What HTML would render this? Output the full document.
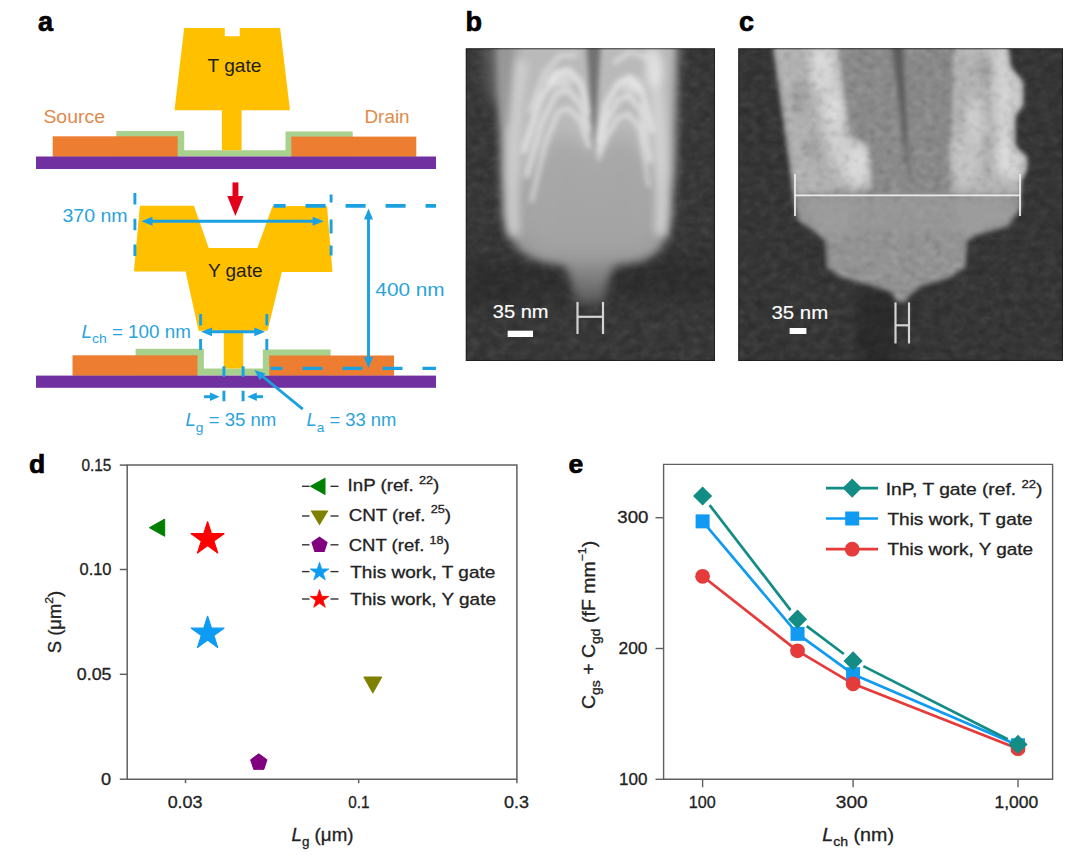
<!DOCTYPE html>
<html><head><meta charset="utf-8">
<style>
html,body{margin:0;padding:0;background:#fff;}
body{width:1084px;height:855px;overflow:hidden;position:relative;font-family:"Liberation Sans",sans-serif;}
svg{position:absolute;left:0;top:0;}
text{font-family:"Liberation Sans",sans-serif;}
</style></head>
<body>
<svg width="1084" height="855" viewBox="0 0 1084 855">
<!-- ============ PANEL A ============ -->
<g id="pa">
<text x="38" y="31" font-size="27" font-weight="bold" fill="#000" stroke="#000" stroke-width="0.7">a</text>
<!-- top diagram -->
<polygon fill="#A9D18E" points="116.3,131 184.2,131 184.2,150.2 285.5,150.2 285.5,131.5 352.7,131.5 352.7,156.5 116.3,156.5"/>
<rect x="52.7" y="136.3" width="125" height="20.5" fill="#ED7D31"/>
<rect x="291.3" y="136.6" width="125" height="20.2" fill="#ED7D31"/>
<rect x="36" y="156.5" width="400" height="12.5" fill="#7030A0"/>
<polygon fill="#FFC000" points="184.2,27.9 224.8,27.9 224.8,36.3 239.8,36.3 239.8,27.9 280.1,27.9 290,110.2 241.6,110.2 241.6,150.2 221.9,150.2 221.9,110.2 174.5,110.2"/>

<!-- bottom diagram -->
<polygon fill="#A9D18E" points="135.6,348.8 203.9,348.8 203.9,368.6 262.8,368.6 262.8,349.5 330.6,349.5 330.6,375.6 135.6,375.6"/>
<rect x="72.5" y="355.3" width="125" height="20.5" fill="#ED7D31"/>
<rect x="269.2" y="355.5" width="124.8" height="20.3" fill="#ED7D31"/>
<rect x="36" y="375.6" width="400" height="12.2" fill="#7030A0"/>
<polygon fill="#FFC000" points="139.9,205.8 193.9,205.8 208.7,247.9 257.4,247.9 272.6,205.9 327,205.9 332.5,272 281.8,272 267.6,330.8 243.2,330.8 243.2,368.6 223.8,368.6 223.8,330.8 198.6,330.8 185.6,271.5 133.9,271.5"/>

<!-- red arrow -->
<rect x="232.5" y="182.4" width="5.9" height="14" fill="#E3001B"/>
<polygon points="227.3,196 243.5,196 235.4,216" fill="#E3001B"/>

<g stroke="#1BA1E2" stroke-width="2.9" fill="none">
  <!-- vertical dashed 370 -->
  <line x1="134.9" y1="192.9" x2="134.9" y2="258" stroke-dasharray="11.5 14.3"/>
  <line x1="331.1" y1="194.5" x2="331.1" y2="258" stroke-dasharray="8 17 14 12 10 50"/>
  <!-- top horizontal dashed -->
  <line x1="273.6" y1="205.9" x2="436" y2="205.9" stroke-dasharray="20 20" stroke-dashoffset="8" stroke-width="3.6"/>
  <!-- bottom horizontal dashed -->
  <line x1="270.7" y1="368.4" x2="436" y2="368.4" stroke-dasharray="20 20" stroke-dashoffset="8.2" stroke-width="3.4"/>
  <!-- 370 arrow -->
  <line x1="146" y1="221.2" x2="319" y2="221.2"/>
  <!-- 400 arrow -->
  <line x1="368.5" y1="214" x2="368.5" y2="362"/>
  <!-- Lch arrow -->
  <line x1="206" y1="331.8" x2="260" y2="331.8"/>
  <!-- Lch dashed verticals -->
  <line x1="200.6" y1="314" x2="200.6" y2="350" stroke-dasharray="11.5 13.5"/>
  <line x1="266.8" y1="314" x2="266.8" y2="350" stroke-dasharray="11.5 13.5"/>
  <!-- Lg small dashes -->
  <line x1="223.9" y1="366.3" x2="223.9" y2="402" stroke-dasharray="10.5 13.9"/>
  <line x1="243.1" y1="366.3" x2="243.1" y2="402" stroke-dasharray="10.5 13.9"/>
  <!-- Lg arrows -->
  <line x1="204" y1="396.7" x2="215" y2="396.7"/>
  <line x1="263" y1="396.7" x2="252" y2="396.7"/>
  <!-- La arrow -->
  <line x1="302.8" y1="409.2" x2="259" y2="373.5"/>
</g>
<g fill="#1BA1E2">
  <polygon points="141.3,221.2 152.5,216.7 152.5,225.7"/>
  <polygon points="323.8,221.2 312.6,216.7 312.6,225.7"/>
  <polygon points="368.5,208.5 364,219.5 373,219.5"/>
  <polygon points="368.5,368 364,357 373,357"/>
  <polygon points="201.1,331.8 212,327.4 212,336.2"/>
  <polygon points="265.2,331.8 254.3,327.4 254.3,336.2"/>
  <polygon points="219.6,396.7 210,392.5 210,400.9"/>
  <polygon points="247.2,396.7 256.8,392.5 256.8,400.9"/>
  <polygon points="254.4,369.9 265.5,373.4 259.8,380.3"/>
</g>
<text x="207.51" y="72.30" font-size="18.2" fill="#1e1e1e" textLength="53.95" lengthAdjust="spacingAndGlyphs">T gate</text>
<text x="43.40" y="122.50" font-size="18.2" fill="#E08B4C" textLength="61.62" lengthAdjust="spacingAndGlyphs">Source</text>
<text x="364.43" y="123.20" font-size="18.2" fill="#E08B4C" textLength="45.20" lengthAdjust="spacingAndGlyphs">Drain</text>
<text x="207.98" y="276.60" font-size="18.5" fill="#1e1e1e" textLength="54.53" lengthAdjust="spacingAndGlyphs">Y gate</text>
<text x="62.43" y="221.80" font-size="18.2" fill="#2AA3DD" textLength="65.22" lengthAdjust="spacingAndGlyphs">370 nm</text>
<text x="375.33" y="296.40" font-size="18.2" fill="#2AA3DD" textLength="69.33" lengthAdjust="spacingAndGlyphs">400 nm</text>
<text x="81.48" y="337.50" font-size="18.2" fill="#2AA3DD" textLength="109.34" lengthAdjust="spacingAndGlyphs"><tspan font-style="italic">L</tspan><tspan font-size="13.5" dy="5.5">ch</tspan><tspan dy="-5.5"> = 100 nm</tspan></text>
<text x="185.49" y="426.40" font-size="18.2" fill="#2AA3DD" textLength="90.74" lengthAdjust="spacingAndGlyphs"><tspan font-style="italic">L</tspan><tspan font-size="13.5" dy="5.5">g</tspan><tspan dy="-5.5"> = 35 nm</tspan></text>
<text x="306.48" y="426.40" font-size="18.2" fill="#2AA3DD" textLength="89.92" lengthAdjust="spacingAndGlyphs"><tspan font-style="italic">L</tspan><tspan font-size="13.5" dy="5.5">a</tspan><tspan dy="-5.5"> = 33 nm</tspan></text>

</g>


<!-- ============ PANEL B ============ -->
<defs>
  <filter color-interpolation-filters="sRGB" id="blur1" filterUnits="userSpaceOnUse" x="0" y="0" width="1084" height="855"><feGaussianBlur stdDeviation="1.2"/></filter>
  <filter color-interpolation-filters="sRGB" id="blur2" filterUnits="userSpaceOnUse" x="0" y="0" width="1084" height="855"><feGaussianBlur stdDeviation="2.5"/></filter>
  <filter color-interpolation-filters="sRGB" id="blur4" filterUnits="userSpaceOnUse" x="0" y="0" width="1084" height="855"><feGaussianBlur stdDeviation="4"/></filter>
  <filter color-interpolation-filters="sRGB" id="blur5" filterUnits="userSpaceOnUse" x="0" y="0" width="1084" height="855"><feGaussianBlur stdDeviation="5"/></filter>
  <filter color-interpolation-filters="sRGB" id="blur8" filterUnits="userSpaceOnUse" x="0" y="0" width="1084" height="855"><feGaussianBlur stdDeviation="8"/></filter>
  <filter color-interpolation-filters="sRGB" id="bgnoise" x="0" y="0" width="100%" height="100%">
    <feTurbulence type="fractalNoise" baseFrequency="0.09 0.13" numOctaves="2" seed="4" result="n"/>
    <feColorMatrix type="matrix" values="0 0 0 0 0  0 0 0 0 0  0 0 0 0 0  1.2 0 0 0 -0.35" result="a"/>
    <feGaussianBlur stdDeviation="0.6"/>
    <feComposite in2="SourceGraphic" operator="in"/>
  </filter>
  <filter color-interpolation-filters="sRGB" id="bgnoiseW" x="0" y="0" width="100%" height="100%">
    <feTurbulence type="fractalNoise" baseFrequency="0.1 0.12" numOctaves="2" seed="9" result="n"/>
    <feColorMatrix type="matrix" values="0 0 0 0 1  0 0 0 0 1  0 0 0 0 1  1.0 0 0 0 -0.45"/>
    <feGaussianBlur stdDeviation="0.6"/>
    <feComposite in2="SourceGraphic" operator="in"/>
  </filter>
  <filter color-interpolation-filters="sRGB" id="rough" x="-10%" y="-10%" width="120%" height="120%">
    <feTurbulence type="fractalNoise" baseFrequency="0.09" numOctaves="3" seed="2" result="n"/>
    <feColorMatrix in="n" type="matrix" values="0 0 0 0 1  0 0 0 0 1  0 0 0 0 1  2.2 0 0 0 -0.9" result="w"/>
    <feComposite in="w" in2="SourceGraphic" operator="in" result="wc"/>
    <feGaussianBlur in="wc" stdDeviation="1"/>
  </filter>
  <filter color-interpolation-filters="sRGB" id="texBody" filterUnits="userSpaceOnUse" x="0" y="0" width="1084" height="855">
    <feGaussianBlur in="SourceAlpha" stdDeviation="2.8" result="sa"/>
    <feTurbulence type="fractalNoise" baseFrequency="0.11" numOctaves="3" seed="3" result="n"/>
    <feColorMatrix in="n" type="matrix" values="0.28 0 0 0 0.42  0.28 0 0 0 0.42  0.28 0 0 0 0.42  0 0 0 0 1" result="g"/>
    <feGaussianBlur in="g" stdDeviation="1.0" result="gb"/>
    <feComposite in="gb" in2="sa" operator="in"/>
  </filter>
  <filter color-interpolation-filters="sRGB" id="texMidBand" filterUnits="userSpaceOnUse" x="0" y="0" width="1084" height="855">
    <feGaussianBlur in="SourceAlpha" stdDeviation="1.5" result="sa"/>
    <feTurbulence type="fractalNoise" baseFrequency="0.09 0.14" numOctaves="3" seed="7" result="n"/>
    <feColorMatrix in="n" type="matrix" values="0.25 0 0 0 0.41  0.25 0 0 0 0.41  0.25 0 0 0 0.41  0 0 0 0 1" result="g"/>
    <feGaussianBlur in="g" stdDeviation="0.6" result="gb"/>
    <feComposite in="gb" in2="sa" operator="in"/>
  </filter>
  <filter color-interpolation-filters="sRGB" id="texBright" filterUnits="userSpaceOnUse" x="0" y="0" width="1084" height="855">
    <feGaussianBlur in="SourceAlpha" stdDeviation="2.2" result="sa"/>
    <feTurbulence type="fractalNoise" baseFrequency="0.055" numOctaves="4" seed="11" result="n"/>
    <feColorMatrix in="n" type="matrix" values="0.85 0 0 0 0.36  0.85 0 0 0 0.36  0.85 0 0 0 0.36  0 0 0 0 1" result="g"/>
    <feGaussianBlur in="g" stdDeviation="1.1" result="gb"/>
    <feComposite in="gb" in2="sa" operator="in"/>
  </filter>
  <filter color-interpolation-filters="sRGB" id="texOverlay" filterUnits="userSpaceOnUse" x="0" y="0" width="1084" height="855">
    <feGaussianBlur in="SourceAlpha" stdDeviation="2.5" result="sa"/>
    <feTurbulence type="fractalNoise" baseFrequency="0.12 0.16" numOctaves="2" seed="21" result="n"/>
    <feColorMatrix in="n" type="matrix" values="0 0 0 0 0.5  0 0 0 0 0.5  0 0 0 0 0.5  2.5 0 0 0 -1.1" result="a1"/>
    <feColorMatrix in="n" type="matrix" values="0 0 0 0 1  0 0 0 0 1  0 0 0 0 1  0 1.6 0 0 -0.75" result="a2"/>
    <feColorMatrix in="n" type="matrix" values="0 0 0 0 0  0 0 0 0 0  0 0 0 0 0  0 0 1.6 0 -0.75" result="a3"/>
    <feMerge result="m"><feMergeNode in="a3"/><feMergeNode in="a2"/></feMerge>
    <feGaussianBlur in="m" stdDeviation="0.8" result="mb"/>
    <feComposite in="mb" in2="sa" operator="in"/>
  </filter>
  <linearGradient id="gb" x1="0" y1="0" x2="0" y2="1">
    <stop offset="0" stop-color="#bdbdbd"/>
    <stop offset="0.45" stop-color="#ababab"/>
    <stop offset="0.72" stop-color="#a3a3a3"/>
    <stop offset="0.84" stop-color="#959595"/>
    <stop offset="1" stop-color="#5a5a5a"/>
  </linearGradient>
  <linearGradient id="gc" x1="0" y1="0" x2="0" y2="1">
    <stop offset="0" stop-color="#9a9a9a"/>
    <stop offset="0.6" stop-color="#939393"/>
    <stop offset="0.85" stop-color="#8c8c8c"/>
    <stop offset="1" stop-color="#6a6a6a"/>
  </linearGradient>
</defs>
<g id="pb">
<text x="465.5" y="31.3" font-size="27" font-weight="bold" fill="#000" stroke="#000" stroke-width="0.7">b</text>
<svg x="465.6" y="48.2" width="249.4" height="312.8" viewBox="465.6 48.2 249.4 312.8" overflow="hidden">
  <rect x="465.6" y="48.2" width="249.4" height="312.8" fill="#3b3b3b"/>
  <rect x="465.6" y="48.2" width="249.4" height="312.8" fill="#000" opacity="0.3" filter="url(#bgnoise)"/>
  <rect x="465.6" y="48.2" width="249.4" height="312.8" fill="#fff" opacity="0.12" filter="url(#bgnoiseW)"/>
  <!-- shadow zone -->
  <path d="M466,262 L560,262 L570,300 L466,305 Z" fill="#1a1a1a" opacity="0.3" filter="url(#blur8)"/>
  <path d="M615,262 L715,255 L715,300 L610,300 Z" fill="#1a1a1a" opacity="0.3" filter="url(#blur8)"/>
  <!-- soft gray top-left -->
  <path d="M484,40 L515,40 L512,110 L490,100 Z" fill="#6a6a6a" filter="url(#blur8)"/>
  <!-- body -->
  <path d="M499,40 L676,40 L674,120 L672,215 L668,236 L658,252 L640,261 L614,266 L608,281.5 L603,303 L577,303 L571.3,281.5 L565,266 L540,261 L522,253 L510,238 L503,218 L500,120 Z" fill="url(#gb)" filter="url(#blur5)"/>
  <!-- top-left gray zone -->
  <path d="M500,40 L522,40 L516,120 L503,130 Z" fill="#8e8e8e" filter="url(#blur4)"/>
  <!-- upper lighter region -->
  <path d="M515,40 L672,40 L670,190 L625,130 L593,150 L560,130 L510,190 Z" fill="#bababa" filter="url(#blur8)"/>
  <!-- bright rims -->
  <path d="M522,60 C514,120 510,175 514,235" stroke="#d2d2d2" stroke-width="12" fill="none" opacity="0.85" filter="url(#blur4)"/>
  <path d="M650,45 C660,110 664,175 660,235" stroke="#d6d6d6" stroke-width="13" fill="none" opacity="0.85" filter="url(#blur4)"/>
  <!-- chevron ridges -->
  <g stroke="#e6e6e6" fill="none" stroke-linecap="round" stroke-linejoin="round" filter="url(#blur2)">
    <path d="M524,150 L540,100 L556,74 L568,70 L580,82 L590,112" stroke-width="7" opacity="0.75"/>
    <path d="M527,175 L542,122 L556,94 L568,90 L580,104 L590,130" stroke-width="6" opacity="0.7"/>
    <path d="M532,200 L546,142 L558,112 L568,108 L580,120 L589,146" stroke-width="5.5" opacity="0.65"/>
    <path d="M530,110 L545,72 L560,56 L575,55" stroke-width="6" opacity="0.55"/>
    <path d="M598,140 L606,104 L618,84 L630,78 L642,92 L652,130" stroke-width="7" opacity="0.75"/>
    <path d="M598,150 L606,122 L618,100 L629,96 L641,110 L650,160" stroke-width="6" opacity="0.7"/>
    <path d="M599,158 L607,136 L618,118 L628,114 L640,128 L648,185" stroke-width="5.5" opacity="0.65"/>
    <path d="M615,62 L630,52 L648,58" stroke-width="6" opacity="0.55"/>
  </g>
  <g fill="#ececec" filter="url(#blur4)" opacity="0.6">
    <ellipse cx="560" cy="80" rx="14" ry="9"/>
    <ellipse cx="632" cy="86" rx="12" ry="9"/>
    <ellipse cx="655" cy="70" rx="8" ry="18"/>
  </g>
  <!-- lower domes (smooth) -->
  <path d="M535,255 C533,200 545,150 563,145 C580,147 590,170 593,195 C598,165 610,147 627,145 C645,150 652,200 650,255 Z" fill="#a6a6a6" opacity="0.6" filter="url(#blur8)"/>
  <!-- center V -->
  <path d="M586,40 L601,40 L594,153 Z" fill="#727272" filter="url(#blur2)"/>
  <!-- scale -->
  <rect x="466.1" y="48.7" width="248.4" height="311.8" fill="none" stroke="#1c1c1c" stroke-width="1.2" opacity="0.8"/>
  <text x="492.85" y="318.00" font-size="17.5" fill="#fff" textLength="55.74" lengthAdjust="spacingAndGlyphs" stroke="#fff" stroke-width="0.15">35 nm</text>

  <rect x="507.7" y="330.7" width="25.3" height="6.3" fill="#fff"/>
  <g stroke="#d4d4d4" stroke-width="2.2" fill="none">
    <line x1="577.5" y1="301.9" x2="577.5" y2="334"/>
    <line x1="603" y1="301.9" x2="603" y2="334"/>
    <line x1="577.5" y1="316.8" x2="603" y2="316.8"/>
  </g>
</svg>
</g>

<!-- ============ PANEL C ============ -->
<g id="pc">
<text x="739" y="31.3" font-size="27" font-weight="bold" fill="#000" stroke="#000" stroke-width="0.7">c</text>
<svg x="738.2" y="48.2" width="324.8" height="312.8" viewBox="738.2 48.2 324.8 312.8" overflow="hidden">
  <rect x="738.2" y="48.2" width="324.8" height="312.8" fill="#393939"/>
  <rect x="738.2" y="48.2" width="324.8" height="312.8" fill="#000" opacity="0.3" filter="url(#bgnoise)"/>
  <rect x="738.2" y="48.2" width="324.8" height="312.8" fill="#fff" opacity="0.12" filter="url(#bgnoiseW)"/>
  <!-- dark band below tip -->
  <rect x="858" y="292" width="36" height="80" fill="#1e1e1e" opacity="0.45" filter="url(#blur4)"/>
  <!-- body base -->
  <path d="M772,40 L1006,40 L1009,67 L1022,82 L1022,105 L1014,115 L1014,147 L1026,157 L1026,170 L1020,180 L1021,208 L1008,226 L975,235 L966,242.5 L964,268 L948,278.5 L921,286 L910,295 L905,302 L897,302 L891,292 L873,286 L840,277 L828,268 L826.5,241 L816,232 L798,220 L793.5,200 L790,170 L783,120 Z" fill="#939393" filter="url(#blur2)"/>
  <!-- mid bands slightly darker -->
  <path d="M836,40 L896,40 L909,194 L868,194 L849,138 Z" fill="#8a8a8a" filter="url(#blur2)"/>
  <path d="M904,40 L955,40 L952,120 L950,194 L910,194 Z" fill="#898989" filter="url(#blur2)"/>
  <!-- left bright band -->
  <path d="M774,40 L836,40 L849,138 L868,145 L872,190 L796,194 L786,120 Z" fill="#b2b2b2" filter="url(#blur2)"/>
  <path d="M808,45 L836,45 L847,135 L866,150 L868,185 L840,180 L825,140 Z" fill="#d8d8d8" opacity="0.75" filter="url(#blur4)"/>
  <!-- right bright band -->
  <path d="M955,40 L1006,40 L1009,67 L1022,82 L1022,105 L1014,115 L1014,147 L1026,157 L1026,170 L1020,180 L1020,194 L952,194 L950,150 L952,120 Z" fill="#b4b4b4" filter="url(#blur2)"/>
  <path d="M990,45 L1006,45 L1009,67 L1020,85 L1020,105 L1012,115 L1012,147 L1024,160 L1018,185 L1000,170 L995,120 Z" fill="#dedede" opacity="0.7" filter="url(#blur4)"/>
  <ellipse cx="966" cy="160" rx="14" ry="26" fill="#d0d0d0" opacity="0.6" filter="url(#blur4)"/>
  <g fill="#e2e2e2" filter="url(#blur4)" opacity="0.55">
    <ellipse cx="858" cy="165" rx="10" ry="22"/>
    <ellipse cx="820" cy="70" rx="9" ry="20"/>
    <ellipse cx="835" cy="110" rx="8" ry="18"/>
    <ellipse cx="975" cy="120" rx="9" ry="22"/>
    <ellipse cx="1005" cy="160" rx="10" ry="20"/>
  </g>
  <g fill="#7a7a7a" filter="url(#blur4)" opacity="0.35">
    <ellipse cx="800" cy="100" rx="7" ry="16"/>
    <ellipse cx="812" cy="150" rx="7" ry="12"/>
    <ellipse cx="985" cy="70" rx="8" ry="12"/>
  </g>
  <!-- texture overlay -->
  <path d="M772,40 L1006,40 L1009,67 L1022,82 L1022,105 L1014,115 L1014,147 L1026,157 L1026,170 L1020,180 L1021,208 L1008,226 L975,235 L966,242.5 L964,268 L948,278.5 L921,286 L910,295 L905,302 L897,302 L891,292 L873,286 L840,277 L828,268 L826.5,241 L816,232 L798,220 L793.5,200 L790,170 L783,120 Z" fill="#000" filter="url(#texOverlay)" opacity="0.2"/>
  <!-- wedge -->
  <path d="M891,40 L903,40 L910,192 Z" fill="#5c5c5c" filter="url(#blur2)"/>
  <!-- lower body streaks -->
  <path d="M810,200 L850,200 L848,235 L826,240 L816,230 Z" fill="#a6a6a6" opacity="0.5" filter="url(#blur4)"/>
  <path d="M955,200 L1012,200 L1005,222 L975,232 L962,238 Z" fill="#a8a8a8" opacity="0.5" filter="url(#blur4)"/>
  <path d="M827,240 L829,268" stroke="#b4b4b4" stroke-width="3" opacity="0.5" filter="url(#blur2)"/>
  <path d="M965,243 L963,268" stroke="#b4b4b4" stroke-width="3" opacity="0.6" filter="url(#blur2)"/>
  <!-- lower body lighter top -->
  <path d="M800,198 L1018,198 L1008,222 L975,232 L830,232 L802,218 Z" fill="#9c9c9c" opacity="0.5" filter="url(#blur4)"/>
  <!-- measurement line -->
  <g stroke="#ececec" stroke-width="1.8" fill="none">
    <line x1="795" y1="195.3" x2="1020" y2="195.3"/>
    <line x1="795" y1="174" x2="795" y2="216"/>
    <line x1="1020" y1="174" x2="1020" y2="216"/>
  </g>
  <!-- scale -->
  <rect x="738.7" y="48.7" width="323.8" height="311.8" fill="none" stroke="#1c1c1c" stroke-width="1.2" opacity="0.8"/>
  <text x="771.40" y="319.00" font-size="17.5" fill="#fff" textLength="56.77" lengthAdjust="spacingAndGlyphs" stroke="#fff" stroke-width="0.15">35 nm</text>

  <rect x="789.6" y="328" width="16.8" height="6" fill="#fff"/>
  <g stroke="#d4d4d4" stroke-width="2.2" fill="none">
    <line x1="895.5" y1="302.4" x2="895.5" y2="343.5"/>
    <line x1="909" y1="302.4" x2="909" y2="343.5"/>
    <line x1="895.5" y1="325.3" x2="909" y2="325.3"/>
  </g>
</svg>
</g>

<!-- ============ PANEL D ============ -->
<g id="pd">
<text x="29" y="473.4" font-size="26.5" font-weight="bold" fill="#000" stroke="#000" stroke-width="0.7">d</text>
<path d="M127.2,465.1 H516.9 V779.2 H127.2 Z" fill="none" stroke="#606060" stroke-width="1.5"/>
<line x1="119.8" y1="465.1" x2="127.2" y2="465.1" stroke="#606060" stroke-width="1.5"/>
<line x1="119.8" y1="569.5" x2="127.2" y2="569.5" stroke="#606060" stroke-width="1.5"/>
<line x1="119.8" y1="674.3" x2="127.2" y2="674.3" stroke="#606060" stroke-width="1.5"/>
<line x1="119.8" y1="779.2" x2="127.2" y2="779.2" stroke="#606060" stroke-width="1.5"/>
<line x1="185.5" y1="779.2" x2="185.5" y2="783.2" stroke="#606060" stroke-width="1.5"/>
<line x1="358.7" y1="779.2" x2="358.7" y2="783.2" stroke="#606060" stroke-width="1.5"/>
<line x1="516.9" y1="779.2" x2="516.9" y2="783.2" stroke="#606060" stroke-width="1.5"/>
<text x="81.41" y="471.00" font-size="16" fill="#222" textLength="29.86" lengthAdjust="spacingAndGlyphs" stroke="#222" stroke-width="0.3">0.15</text>
<text x="79.50" y="575.20" font-size="16" fill="#222" textLength="31.96" lengthAdjust="spacingAndGlyphs" stroke="#222" stroke-width="0.3">0.10</text>
<text x="76.84" y="680.20" font-size="16" fill="#222" textLength="34.68" lengthAdjust="spacingAndGlyphs" stroke="#222" stroke-width="0.3">0.05</text>
<text x="101.05" y="784.80" font-size="16" fill="#222" textLength="10.10" lengthAdjust="spacingAndGlyphs" stroke="#222" stroke-width="0.3">0</text>
<text x="167.66" y="808.00" font-size="16" fill="#222" textLength="34.85" lengthAdjust="spacingAndGlyphs" stroke="#222" stroke-width="0.3">0.03</text>
<text x="348.19" y="808.00" font-size="16" fill="#222" textLength="21.25" lengthAdjust="spacingAndGlyphs" stroke="#222" stroke-width="0.3">0.1</text>
<text x="504.01" y="808.00" font-size="16" fill="#222" textLength="24.98" lengthAdjust="spacingAndGlyphs" stroke="#222" stroke-width="0.3">0.3</text>
<text x="291.56" y="841.20" font-size="17.5" fill="#222" textLength="61.93" lengthAdjust="spacingAndGlyphs" stroke="#222" stroke-width="0.3"><tspan font-style="italic">L</tspan><tspan font-size="12.5" dy="4.5">g</tspan><tspan dy="-4.5"> (μm)</tspan></text>
<g transform="translate(60.5,653.2) rotate(-90)"><text x="0.00" y="0.00" font-size="17.5" fill="#222" textLength="62.33" lengthAdjust="spacingAndGlyphs" stroke="#222" stroke-width="0.3">S (μm<tspan font-size="11.5" dy="-8">2</tspan><tspan dy="8">)</tspan></text>
</g>
<polygon points="149.3,527.7 164.7,519.1 164.7,536.3" fill="#008000" stroke="#008000" stroke-width="1" stroke-linejoin="round"/>
<polygon points="363.8,677 381.8,677 372.8,693.1" fill="#808000" stroke="#808000" stroke-width="1" stroke-linejoin="round"/>
<polygon points="258.80,753.80 266.98,759.74 263.85,769.36 253.75,769.36 250.62,759.74" fill="#800080" stroke="#800080" stroke-width="1" stroke-linejoin="round"/>
<polygon points="207.60,521.80 211.46,533.68 223.96,533.68 213.85,541.03 217.71,552.92 207.60,545.57 197.49,552.92 201.35,541.03 191.24,533.68 203.74,533.68" fill="#FF0000" stroke="#FF0000" stroke-width="1.2" stroke-linejoin="round"/>
<polygon points="207.60,616.30 211.46,628.18 223.96,628.18 213.85,635.53 217.71,647.42 207.60,640.07 197.49,647.42 201.35,635.53 191.24,628.18 203.74,628.18" fill="#0E9BF4" stroke="#0E9BF4" stroke-width="1.2" stroke-linejoin="round"/>
<line x1="302" y1="486.3" x2="309.5" y2="486.3" stroke="#333" stroke-width="1.4"/><line x1="330.5" y1="486.3" x2="338.5" y2="486.3" stroke="#333" stroke-width="1.4"/>
<line x1="302" y1="516.0" x2="309.5" y2="516.0" stroke="#333" stroke-width="1.4"/><line x1="330.5" y1="516.0" x2="338.5" y2="516.0" stroke="#333" stroke-width="1.4"/>
<line x1="302" y1="544.8" x2="309.5" y2="544.8" stroke="#333" stroke-width="1.4"/><line x1="330.5" y1="544.8" x2="338.5" y2="544.8" stroke="#333" stroke-width="1.4"/>
<line x1="302" y1="571.6" x2="309.5" y2="571.6" stroke="#333" stroke-width="1.4"/><line x1="330.5" y1="571.6" x2="338.5" y2="571.6" stroke="#333" stroke-width="1.4"/>
<line x1="302" y1="599.0" x2="309.5" y2="599.0" stroke="#333" stroke-width="1.4"/><line x1="330.5" y1="599.0" x2="338.5" y2="599.0" stroke="#333" stroke-width="1.4"/>
<polygon points="309.5,486.3 325.5,477.4 325.5,495.2" fill="#008000"/>
<polygon points="310.5,510.6 328.5,510.6 319.5,525.6" fill="#808000"/>
<polygon points="319.50,536.40 327.68,542.34 324.55,551.96 314.45,551.96 311.32,542.34" fill="#800080"/>
<polygon points="319.50,562.20 321.70,568.97 328.82,568.97 323.06,573.16 325.26,579.93 319.50,575.74 313.74,579.93 315.94,573.16 310.18,568.97 317.30,568.97" fill="#0E9BF4" stroke="#0E9BF4" stroke-width="0.8" stroke-linejoin="round"/>
<polygon points="319.50,589.60 321.70,596.37 328.82,596.37 323.06,600.56 325.26,607.33 319.50,603.14 313.74,607.33 315.94,600.56 310.18,596.37 317.30,596.37" fill="#FF0000" stroke="#FF0000" stroke-width="0.8" stroke-linejoin="round"/>
<text x="347.55" y="491.40" font-size="16.2" fill="#222" textLength="91.77" lengthAdjust="spacingAndGlyphs" stroke="#222" stroke-width="0.3">InP (ref. <tspan font-size="11" dy="-7.5">22</tspan><tspan dy="7.5">)</tspan></text>
<text x="348.73" y="520.90" font-size="16.2" fill="#222" textLength="102.36" lengthAdjust="spacingAndGlyphs" stroke="#222" stroke-width="0.3">CNT (ref. <tspan font-size="11" dy="-7.5">25</tspan><tspan dy="7.5">)</tspan></text>
<text x="348.74" y="551.40" font-size="16.2" fill="#222" textLength="101.03" lengthAdjust="spacingAndGlyphs" stroke="#222" stroke-width="0.3">CNT (ref. <tspan font-size="11" dy="-7.5">18</tspan><tspan dy="7.5">)</tspan></text>
<text x="350.27" y="578.00" font-size="16.2" fill="#222" textLength="145.08" lengthAdjust="spacingAndGlyphs" stroke="#222" stroke-width="0.3">This work, T gate</text>
<text x="350.28" y="604.50" font-size="16.2" fill="#222" textLength="145.67" lengthAdjust="spacingAndGlyphs" stroke="#222" stroke-width="0.3">This work, Y gate</text>
</g>
<g id="pe">
<text x="568.5" y="472.7" font-size="26.5" font-weight="bold" fill="#000" stroke="#000" stroke-width="0.7">e</text>
<path d="M663.6,464.4 H1052.6 V779.3 H663.6 Z" fill="none" stroke="#606060" stroke-width="1.4"/>
<line x1="655.5" y1="517.70" x2="663.6" y2="517.70" stroke="#606060" stroke-width="1.4"/>
<line x1="655.5" y1="648.50" x2="663.6" y2="648.50" stroke="#606060" stroke-width="1.4"/>
<line x1="655.5" y1="779.30" x2="663.6" y2="779.30" stroke="#606060" stroke-width="1.4"/>
<line x1="702.60" y1="779.3" x2="702.60" y2="787.3" stroke="#606060" stroke-width="1.4"/>
<line x1="853.08" y1="779.3" x2="853.08" y2="787.3" stroke="#606060" stroke-width="1.4"/>
<line x1="1018.00" y1="779.3" x2="1018.00" y2="787.3" stroke="#606060" stroke-width="1.4"/>
<text x="617.33" y="523.20" font-size="16" fill="#222" textLength="31.10" lengthAdjust="spacingAndGlyphs" stroke="#222" stroke-width="0.3">300</text>
<text x="618.52" y="653.90" font-size="16" fill="#222" textLength="28.86" lengthAdjust="spacingAndGlyphs" stroke="#222" stroke-width="0.3">200</text>
<text x="618.99" y="784.60" font-size="16" fill="#222" textLength="28.41" lengthAdjust="spacingAndGlyphs" stroke="#222" stroke-width="0.3">100</text>
<text x="688.75" y="808.20" font-size="16" fill="#222" textLength="26.97" lengthAdjust="spacingAndGlyphs" stroke="#222" stroke-width="0.3">100</text>
<text x="835.80" y="808.20" font-size="16" fill="#222" textLength="31.80" lengthAdjust="spacingAndGlyphs" stroke="#222" stroke-width="0.3">300</text>
<text x="994.43" y="808.20" font-size="16" fill="#222" textLength="43.71" lengthAdjust="spacingAndGlyphs" stroke="#222" stroke-width="0.3">1,000</text>
<text x="822.31" y="841.30" font-size="17.5" fill="#222" textLength="71.69" lengthAdjust="spacingAndGlyphs" stroke="#222" stroke-width="0.3"><tspan font-style="italic">L</tspan><tspan font-size="12.5" dy="4.5">ch</tspan><tspan dy="-4.5"> (nm)</tspan></text>
<g transform="translate(595,709.0) rotate(-90)"><text x="0.00" y="0.00" font-size="17.5" fill="#222" textLength="168.18" lengthAdjust="spacingAndGlyphs" stroke="#222" stroke-width="0.3">C<tspan font-size="12.5" dy="4.5">gs</tspan><tspan dy="-4.5"> + C</tspan><tspan font-size="12.5" dy="4.5">gd</tspan><tspan dy="-4.5"> (fF mm</tspan><tspan font-size="11" dy="-9">−1</tspan><tspan dy="9">)</tspan></text>
</g>
<polyline points="702.60,576.30 797.54,650.85 853.08,683.82 1018.00,748.69" fill="none" stroke="#E63B3B" stroke-width="2.7" stroke-linejoin="round"/>
<polyline points="702.60,521.36 797.54,633.85 853.08,674.14 1018.00,745.29" fill="none" stroke="#119AF2" stroke-width="2.7" stroke-linejoin="round"/>
<line x1="709.62" y1="505.10" x2="790.53" y2="610.09" stroke="#128C84" stroke-width="2.7"/>
<line x1="806.74" y1="626.11" x2="843.89" y2="654.02" stroke="#128C84" stroke-width="2.7"/>
<line x1="863.35" y1="666.12" x2="1007.74" y2="739.18" stroke="#128C84" stroke-width="2.7"/>
<rect x="695.60" y="514.36" width="14" height="14" fill="#119AF2"/>
<rect x="790.54" y="626.85" width="14" height="14" fill="#119AF2"/>
<rect x="846.08" y="667.14" width="14" height="14" fill="#119AF2"/>
<rect x="1011.00" y="738.29" width="14" height="14" fill="#119AF2"/>
<circle cx="702.60" cy="576.30" r="7.4" fill="#E63B3B"/>
<circle cx="797.54" cy="650.85" r="7.4" fill="#E63B3B"/>
<circle cx="853.08" cy="683.82" r="7.4" fill="#E63B3B"/>
<circle cx="1018.00" cy="748.69" r="7.4" fill="#E63B3B"/>
<polygon points="702.60,482.99 715.60,495.99 702.60,508.99 689.60,495.99" fill="#fff" opacity="0"/>
<polygon points="702.60,486.39 712.20,495.99 702.60,505.59 693.00,495.99" fill="#128C84"/>
<polygon points="797.54,606.20 810.54,619.20 797.54,632.20 784.54,619.20" fill="#fff" opacity="0"/>
<polygon points="797.54,609.60 807.14,619.20 797.54,628.80 787.94,619.20" fill="#128C84"/>
<polygon points="853.08,647.93 866.08,660.93 853.08,673.93 840.08,660.93" fill="#fff" opacity="0"/>
<polygon points="853.08,651.33 862.68,660.93 853.08,670.53 843.48,660.93" fill="#128C84"/>
<polygon points="1018.00,731.38 1031.00,744.38 1018.00,757.38 1005.00,744.38" fill="#fff" opacity="0"/>
<polygon points="1018.00,734.78 1027.60,744.38 1018.00,753.98 1008.40,744.38" fill="#128C84"/>
<line x1="826" y1="488.1" x2="878" y2="488.1" stroke="#128C84" stroke-width="2.7"/>
<polygon points="852.2,478.5 861.8,488.1 852.2,497.70000000000005 842.6,488.1" fill="#128C84"/>
<line x1="826" y1="518.5" x2="878" y2="518.5" stroke="#119AF2" stroke-width="2.7"/>
<rect x="845.2" y="511.5" width="14" height="14" fill="#119AF2"/>
<line x1="826" y1="549.2" x2="878" y2="549.2" stroke="#E63B3B" stroke-width="2.7"/>
<circle cx="852.2" cy="549.2" r="7.4" fill="#E63B3B"/>
<text x="885.67" y="495.10" font-size="16.2" fill="#222" textLength="156.82" lengthAdjust="spacingAndGlyphs" stroke="#222" stroke-width="0.3">InP, T gate (ref. <tspan font-size="11" dy="-7.5">22</tspan><tspan dy="7.5">)</tspan></text>
<text x="887.45" y="524.90" font-size="16.2" fill="#222" textLength="145.16" lengthAdjust="spacingAndGlyphs" stroke="#222" stroke-width="0.3">This work, T gate</text>
<text x="887.46" y="554.70" font-size="16.2" fill="#222" textLength="145.67" lengthAdjust="spacingAndGlyphs" stroke="#222" stroke-width="0.3">This work, Y gate</text>
</g>

</svg>
</body></html>
